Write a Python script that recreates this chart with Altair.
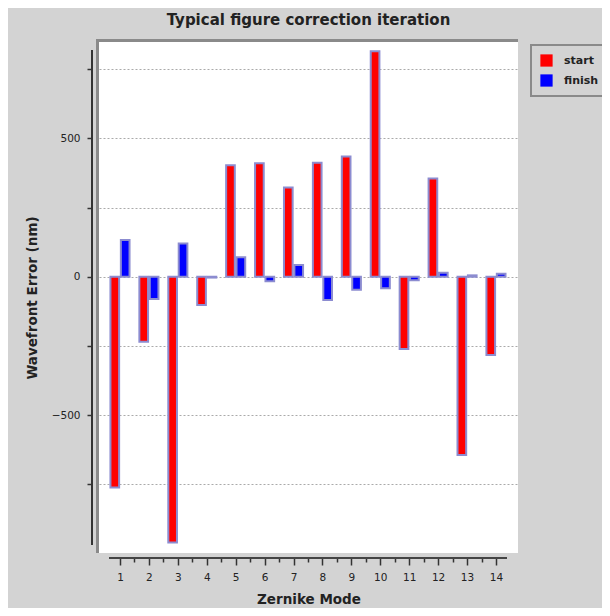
import altair as alt
import pandas as pd

modes = list(range(1, 15))
start_vals = [-761, -235, -960, -102, 403, 410, 322, 412, 434, 815, -261, 355, -644, -283]
finish_vals = [133, -80, 120, -3, 70, -16, 42, -84, -47, -42, -13, 14, 5, 11]
series_names = ["start", "finish"]
series_colors = ["#ff0000", "#0000ff"]
y_ticks = [-750, -500, -250, 0, 250, 500, 750]
x_ticks = [m + h for m in modes for h in (0, 0.5) if m + h <= modes[-1]]

rows = []
for m, s, f in zip(modes, start_vals, finish_vals):
    rows.append({"mode": m, "series": "start", "value": s})
    rows.append({"mode": m, "series": "finish", "value": f})
df = pd.DataFrame(rows)

FONT = "DejaVu Sans"
W, H = 419, 511

x_scale = alt.Scale(domain=[0.274, 14.762], nice=False, zero=False)
y_scale = alt.Scale(domain=[-998, 848], nice=False, zero=False)

bars = alt.Chart(df).transform_calculate(
    x0="datum.series == 'start' ? datum.mode - 0.33 : datum.mode + 0.03",
    x1="datum.series == 'start' ? datum.mode - 0.03 : datum.mode + 0.33",
).mark_rect(stroke="#8c8cd0", strokeWidth=2).encode(
    x=alt.X(
        "x0:Q",
        scale=x_scale,
        axis=alt.Axis(
            values=x_ticks,
            offset=5,
            grid=False,
            domain=False,
            tickColor="#333333",
            tickWidth=1.5,
            tickSize={"condition": {"test": "datum.value % 1 === 0", "value": 7}, "value": 4},
            labelExpr="datum.value % 1 === 0 ? format(datum.value, 'd') : ''",
            labelFont=FONT,
            labelFontSize=10.5,
            labelColor="#222222",
            labelPadding=7,
            title="Zernike Mode",
            titleFont=FONT,
            titleFontSize=13.5,
            titleFontWeight="bold",
            titleColor="#222222",
            titlePadding=10,
        ),
    ),
    x2="x1:Q",
    y=alt.Y(
        "value:Q",
        scale=y_scale,
        axis=alt.Axis(
            values=y_ticks,
            offset=7,
            grid=True,
            gridDash=[2, 2],
            gridColor="#aaaaaa",
            gridWidth=1,
            domain=False,
            tickColor="#333333",
            tickWidth=1.5,
            tickSize=5,
            labelExpr="datum.value % 500 === 0 ? datum.label : ''",
            labelFont=FONT,
            labelFontSize=10.5,
            labelColor="#222222",
            labelPadding=7,
            title="Wavefront Error (nm)",
            titleFont=FONT,
            titleFontSize=13.5,
            titleFontWeight="bold",
            titleColor="#222222",
            titlePadding=12,
        ),
    ),
    y2=alt.datum(0),
    color=alt.Color(
        "series:N",
        scale=alt.Scale(domain=series_names, range=series_colors),
        sort=series_names,
        legend=alt.Legend(
            orient="none",
            legendX=432,
            legendY=3,
            title=None,
            symbolType="square",
            symbolSize=150,
            symbolStrokeWidth=0,
            labelFont=FONT,
            labelFontSize=11,
            labelFontWeight="bold",
            labelColor="#222222",
            labelOffset=11,
            rowPadding=7,
            padding=9,
            fillColor="#d3d3d3",
            strokeColor="#8a8a8a",
        ),
    ),
)

deco_src = pd.DataFrame({"k": [0]})
top_edge = alt.Chart(deco_src).mark_rule(color="#8a8a8a", strokeWidth=3).encode(
    x=alt.value(-3), x2=alt.value(W), y=alt.value(-1.5)
)
left_edge = alt.Chart(deco_src).mark_rule(color="#8a8a8a", strokeWidth=3).encode(
    x=alt.value(-1.5), y=alt.value(-3), y2=alt.value(H)
)
x_axis_line = alt.Chart(deco_src).mark_rule(color="#444444", strokeWidth=2).encode(
    x=alt.value(10), x2=alt.value(408), y=alt.value(H + 5)
)
y_axis_line = alt.Chart(deco_src).mark_rule(color="#333333", strokeWidth=2).encode(
    x=alt.value(-7), y=alt.value(8), y2=alt.value(503)
)

chart = alt.layer(bars, top_edge, left_edge, x_axis_line, y_axis_line).properties(
    width=W,
    height=H,
    autosize=alt.AutoSizeParams(type="none"),
    padding={"left": 91, "top": 34, "right": 84, "bottom": 55},
    background="#d3d3d3",
    title=alt.TitleParams(
        "Typical figure correction iteration",
        font=FONT,
        fontSize=15,
        fontWeight="bold",
        color="#222222",
        anchor="middle",
        frame="group",
        offset=10,
    ),
).configure_view(fill="white", stroke=None).configure_legend(strokeWidth=2)

chart.save("out.html", embed_options={"renderer": "svg", "actions": False})
